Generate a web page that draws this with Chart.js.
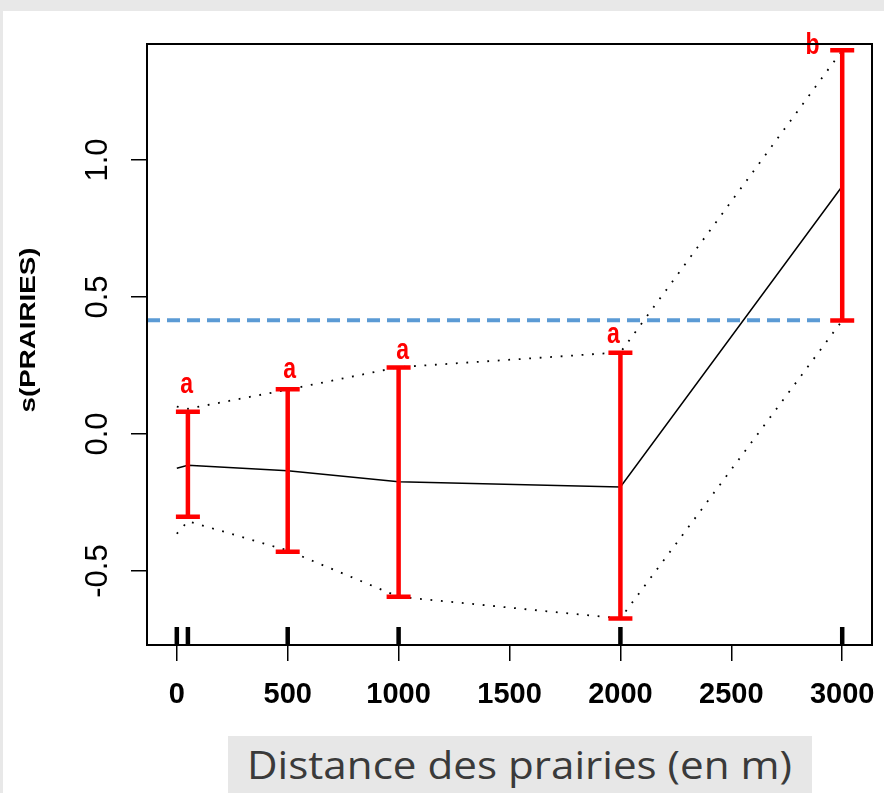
<!DOCTYPE html>
<html>
<head>
<meta charset="utf-8">
<script src="https://cdn.jsdelivr.net/npm/chart.js@4.4.1/dist/chart.umd.min.js"></script>
<style>
html,body{margin:0;padding:0;}
body{width:884px;height:793px;background:#e8e8e8;position:relative;overflow:hidden;}
#panel{position:absolute;left:3px;top:11px;width:881px;height:782px;background:#fff;}
#xlab{position:absolute;left:228px;top:736px;width:584px;height:57px;background:#e7e7e7;}
#xlabText{position:absolute;left:19px;top:0px;white-space:nowrap;font-family:'Open Sans',sans-serif;font-size:38px;line-height:57px;color:#3a3a3a;transform-origin:0 50%;}
#c{position:absolute;left:0;top:0;}
</style>
</head>
<body>
<div id="panel"></div>
<div id="xlab"><span id="xlabText">Distance des prairies (en m)</span></div>
<canvas id="c" width="884" height="793"></canvas>
<script>
// ---- data ----
const xTickValues = [0, 500, 1000, 1500, 2000, 2500, 3000];
const yTickValues = [-0.5, 0, 0.5, 1.0];
const yTickLabels = ['-0.5', '0.0', '0.5', '1.0'];
const yAxisTitle = 's(PRAIRIES)';
const xAxisTitle = 'Distance des prairies (en m)';

const smoothX      = [0, 50, 500, 1000, 2000, 3000];
const fitValues    = [-0.125, -0.114, -0.134, -0.174, -0.193, 0.904];
const upperValues  = [0.100, 0.092, 0.162, 0.244, 0.298, 1.400];
const lowerValues  = [-0.364, -0.318, -0.425, -0.594, -0.673, 0.414];

const groupX       = [50, 500, 1000, 2000, 3000];
const groupUpper   = [0.081, 0.163, 0.243, 0.297, 1.401];
const groupLower   = [-0.302, -0.430, -0.594, -0.673, 0.414];
const groupLetters = ['a', 'a', 'a', 'a', 'b'];
const letterX      = [44, 509, 1018, 1968, 2866];
const letterY      = [0.184, 0.240, 0.308, 0.366, 1.421];

const rugX         = [0, 50, 500, 1000, 2000, 3000];
const refLevel     = 0.415;
const refLineX     = [-134.4, 2905];

const xRange = [-134.4, 3134.3];
const yRange = [-0.770, 1.4234];

document.getElementById('xlabText').textContent = xAxisTitle;

const toPts = (xs, ys) => xs.map((x, i) => ({x: x, y: ys[i]}));

const overlay = {
  id: 'overlay',
  afterDatasetsDraw(chart) {
    const ctx = chart.ctx, xs = chart.scales.x, ys = chart.scales.y, a = chart.chartArea;
    ctx.save();
    // error bars
    ctx.strokeStyle = '#ff0000';
    ctx.lineWidth = 4.5;
    ctx.lineCap = 'butt';
    groupX.forEach((gx, i) => {
      const px = xs.getPixelForValue(gx);
      const pt = ys.getPixelForValue(groupUpper[i]);
      const pb = ys.getPixelForValue(groupLower[i]);
      ctx.beginPath();
      ctx.moveTo(px, pt); ctx.lineTo(px, pb);
      ctx.moveTo(px - 12, pt); ctx.lineTo(px + 12, pt);
      ctx.moveTo(px - 12, pb); ctx.lineTo(px + 12, pb);
      ctx.stroke();
    });
    // letters
    ctx.fillStyle = '#ff0000';
    ctx.font = 'bold 23px "Liberation Sans", Arial, sans-serif';
    ctx.textAlign = 'center';
    ctx.textBaseline = 'middle';
    groupLetters.forEach((t, i) => {
      const px = xs.getPixelForValue(letterX[i]);
      const py = ys.getPixelForValue(letterY[i]);
      ctx.save();
      ctx.translate(px, py);
      ctx.scale(1, 1.3);
      ctx.fillText(t, 0, 1);
      ctx.restore();
    });
    // rug
    ctx.strokeStyle = '#000';
    ctx.lineWidth = 4.5;
    rugX.forEach(rx => {
      const px = xs.getPixelForValue(rx);
      ctx.beginPath();
      ctx.moveTo(px, a.bottom);
      ctx.lineTo(px, a.bottom - 18);
      ctx.stroke();
    });
    // box
    ctx.lineWidth = 2;
    ctx.strokeStyle = '#000';
    ctx.strokeRect(a.left, a.top, a.right - a.left, a.bottom - a.top);
    ctx.restore();
  },
  afterDraw(chart) {
    const ctx = chart.ctx, ys = chart.scales.y;
    ctx.save();
    ctx.fillStyle = '#000';
    ctx.textAlign = 'center';
    ctx.textBaseline = 'middle';
    ctx.font = '31px "Liberation Sans", Arial, sans-serif';
    ys.ticks.forEach((t) => {
      const idx = yTickValues.indexOf(t.value);
      const py = ys.getPixelForValue(t.value);
      ctx.save();
      ctx.translate(97, py);
      ctx.rotate(-Math.PI / 2);
      ctx.fillText(yTickLabels[idx], 0, 1);
      ctx.restore();
    });
    ctx.font = 'bold 22px "Liberation Sans", Arial, sans-serif';
    ctx.save();
    ctx.translate(29, 330);
    ctx.rotate(-Math.PI / 2);
    ctx.scale(1.26, 1);
    ctx.fillText(yAxisTitle, 0, 0);
    ctx.restore();
    ctx.restore();
  }
};

new Chart(document.getElementById('c'), {
  type: 'line',
  data: {
    datasets: [
      {data: toPts(smoothX, fitValues), borderColor: '#000', borderWidth: 1.5, pointRadius: 0, tension: 0},
      {data: toPts(smoothX, upperValues), borderColor: '#000', borderWidth: 1.8, borderDash: [1.8, 8.7], pointRadius: 0, tension: 0},
      {data: toPts(smoothX, lowerValues), borderColor: '#000', borderWidth: 1.8, borderDash: [1.8, 8.7], pointRadius: 0, tension: 0},
      {data: toPts(refLineX, [refLevel, refLevel]), borderColor: '#5b9bd5', borderWidth: 4, borderDash: [13, 7], pointRadius: 0, tension: 0}
    ]
  },
  options: {
    responsive: false,
    animation: false,
    devicePixelRatio: 1,
    layout: {padding: {top: 44, right: 12, left: 0, bottom: 0}},
    plugins: {legend: {display: false}, tooltip: {enabled: false}},
    scales: {
      x: {
        type: 'linear', min: xRange[0], max: xRange[1],
        afterBuildTicks: s => { s.ticks = xTickValues.map(v => ({value: v})); },
        afterFit: s => { s.height = 148; s.paddingLeft = 0; s.paddingRight = 0; },
        grid: {drawOnChartArea: false, drawTicks: true, tickLength: 16, color: '#000', lineWidth: 1.5},
        border: {display: false},
        ticks: {color: '#000', font: {family: '"Liberation Sans", Arial, sans-serif', size: 29, weight: 'bold'},
                padding: 17, maxRotation: 0, minRotation: 0, autoSkip: false, callback: v => String(v)}
      },
      y: {
        type: 'linear', min: yRange[0], max: yRange[1],
        afterBuildTicks: s => { s.ticks = yTickValues.map(v => ({value: v})); },
        afterFit: s => { s.width = 147; s.paddingTop = 0; s.paddingBottom = 0; },
        grid: {drawOnChartArea: false, drawTicks: true, tickLength: 16, color: '#000', lineWidth: 1.5},
        border: {display: false},
        ticks: {display: false}
      }
    }
  },
  plugins: [overlay]
});

const sp = document.getElementById('xlabText');
const w = sp.getBoundingClientRect().width;
sp.style.transform = 'scaleX(' + (545 / w) + ')';
</script>
</body>
</html>
